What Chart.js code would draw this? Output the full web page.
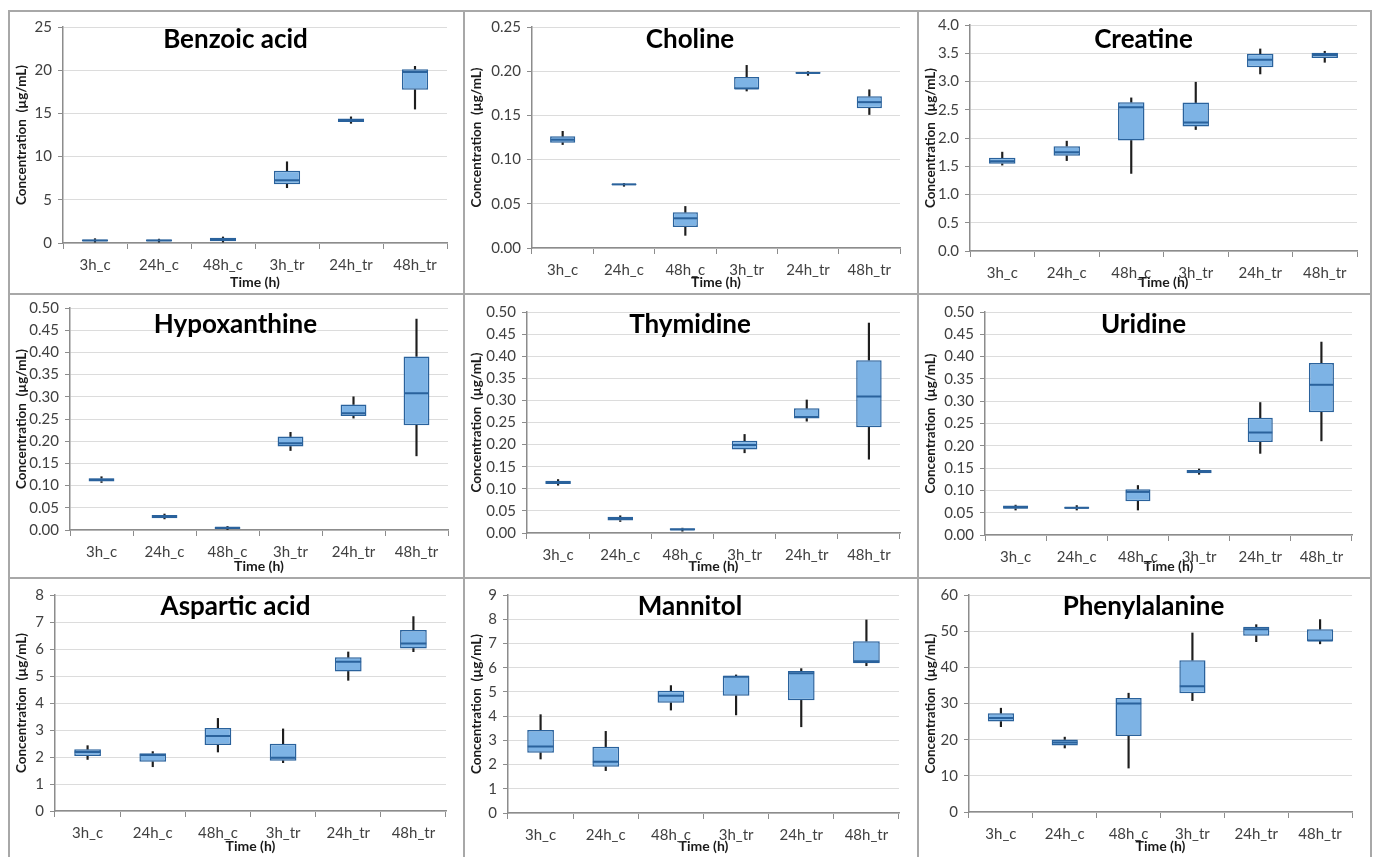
<!DOCTYPE html>
<html>
<head>
<meta charset="utf-8">
<script src="https://cdn.jsdelivr.net/npm/chart.js@4.4.0/dist/chart.umd.min.js"></script>
<style>
body { margin: 0; background: #fff; width: 1375px; height: 857px; overflow: hidden; position: relative; }
.panel { position: absolute; box-sizing: border-box; border: 2px solid #a8a8a8; }
canvas { position: absolute; }
</style>
</head>
<body>
<script>
// categories and titles
const categories = ['3h_c', '24h_c', '48h_c', '3h_tr', '24h_tr', '48h_tr'];
const titles = ['Benzoic acid', 'Choline', 'Creatine', 'Hypoxanthine', 'Thymidine', 'Uridine', 'Aspartic acid', 'Mannitol', 'Phenylalanine'];

// per category: [whisker min, q1, median, q3, whisker max]
const benzoicAcid = [[0.1, 0.2, 0.3, 0.4, 0.5], [0.1, 0.2, 0.3, 0.4, 0.45], [0.1, 0.2, 0.4, 0.6, 0.7], [6.4, 6.8, 7.25, 8.35, 9.4], [13.85, 14.0, 14.2, 14.4, 14.6], [15.5, 17.75, 19.8, 20.1, 20.45]];
const choline = [[0.117, 0.1192, 0.1225, 0.1263, 0.132], [0.0698, 0.0709, 0.072, 0.0728, 0.073], [0.0143, 0.0238, 0.0336, 0.0403, 0.047], [0.1776, 0.1795, 0.1805, 0.1934, 0.2066], [0.1953, 0.197, 0.198, 0.199, 0.1995], [0.151, 0.158, 0.165, 0.1716, 0.179]];
const creatine = [[1.52, 1.543, 1.59, 1.65, 1.75], [1.60, 1.685, 1.75, 1.856, 1.944], [1.373, 1.956, 2.545, 2.633, 2.71], [2.15, 2.203, 2.274, 2.627, 2.987], [3.134, 3.252, 3.387, 3.493, 3.576], [3.34, 3.417, 3.47, 3.511, 3.535]];
const hypoxanthine = [[0.107, 0.109, 0.113, 0.1165, 0.12], [0.025, 0.0263, 0.031, 0.0338, 0.036], [0.001, 0.0023, 0.005, 0.0068, 0.008], [0.179, 0.188, 0.1955, 0.2105, 0.22], [0.252, 0.257, 0.263, 0.2827, 0.30], [0.167, 0.236, 0.308, 0.391, 0.475]];
const thymidine = [[0.108, 0.111, 0.114, 0.118, 0.121], [0.026, 0.028, 0.033, 0.037, 0.039], [0.004, 0.006, 0.008, 0.0106, 0.011], [0.1815, 0.189, 0.199, 0.2088, 0.223], [0.253, 0.259, 0.2625, 0.282, 0.301], [0.167, 0.239, 0.309, 0.391, 0.475]];
const uridine = [[0.056, 0.059, 0.062, 0.066, 0.067], [0.056, 0.059, 0.061, 0.0636, 0.066], [0.056, 0.0756, 0.0966, 0.1025, 0.111], [0.136, 0.1385, 0.142, 0.146, 0.148], [0.183, 0.2088, 0.2298, 0.2627, 0.297], [0.211, 0.2754, 0.3368, 0.3855, 0.4326]];
const asparticAcid = [[1.91, 2.037, 2.185, 2.284, 2.42], [1.64, 1.827, 2.074, 2.136, 2.2], [2.185, 2.444, 2.778, 3.074, 3.43], [1.79, 1.864, 1.975, 2.494, 3.04], [4.84, 5.17, 5.53, 5.69, 5.89], [5.9, 6.02, 6.2, 6.70, 7.2]];
const mannitol = [[2.23, 2.49, 2.75, 3.426, 4.06], [1.75, 1.91, 2.12, 2.74, 3.37], [4.25, 4.55, 4.84, 5.05, 5.26], [4.05, 4.84, 5.63, 5.67, 5.7], [3.56, 4.65, 5.77, 5.86, 5.96], [6.08, 6.18, 6.27, 7.09, 7.97]];
const phenylalanine = [[23.6, 25.0, 26.0, 27.3, 28.7], [17.7, 18.4, 19.2, 20.05, 20.7], [12.15, 21.0, 30.0, 31.55, 32.85], [30.8, 32.85, 34.8, 41.95, 49.5], [47.1, 48.75, 50.5, 51.25, 51.8], [46.5, 47.2, 47.4, 50.5, 53.2]];

// y axis: max, step, decimals
const yMax = [25, 0.25, 4, 0.5, 0.5, 0.5, 8, 9, 60];
const yStep = [5, 0.05, 0.5, 0.05, 0.05, 0.05, 1, 1, 10];
const yDecimals = [0, 2, 1, 2, 2, 2, 0, 0, 0];

const series = [benzoicAcid, choline, creatine, hypoxanthine, thymidine, uridine, asparticAcid, mannitol, phenylalanine];

// page layout
const colX = [8, 463, 917, 1370];
const rowY = [10, 293, 577, 857];
// plot areas [left, right, top, bottom]
const plotRects = [
  [63, 447, 27, 243], [532, 900, 27, 248], [970, 1357, 24, 251],
  [70, 448, 308, 530], [527, 900, 312, 533], [985, 1352, 312, 535],
  [55, 446, 595, 811], [508, 899, 595, 813], [969, 1352, 595, 812]
];
const titleY = [30, 32, 30];

const boxFill = '#7db3e5';
const boxLine = '#2a629c';
const whisker = '#1e1e1e';
const boxPct = 0.41;
const FONT = 'Lato, "Open Sans", sans-serif';

const titlePlugin = {
  id: 'panelTitle',
  afterDraw(chart, args, opts) {
    const c = chart.ctx;
    c.save();
    c.font = 'bold 26px ' + FONT;
    c.fillStyle = '#000';
    c.textAlign = 'center';
    c.textBaseline = 'middle';
    c.fillText(opts.text, chart.width / 2, opts.y);
    c.restore();
  }
};

for (let i = 0; i < 9; i++) {
  const col = i % 3, row = Math.floor(i / 3);
  const left = colX[col], top = rowY[row];
  const w = colX[col + 1] - left, h = rowY[row + 1] - top;

  const border = document.createElement('div');
  border.className = 'panel';
  border.style.left = left + 'px';
  border.style.top = top + 'px';
  border.style.width = (w + 2) + 'px';
  border.style.height = (row === 2 ? h + 10 : h + 2) + 'px';
  document.body.appendChild(border);

  const cv = document.createElement('canvas');
  cv.width = w; cv.height = h;
  cv.style.left = left + 'px';
  cv.style.top = top + 'px';
  document.body.appendChild(cv);

  const pr = plotRects[i];
  const padL = 5;
  const yW = pr[0] - left - padL;
  const padR = colX[col + 1] - pr[1];
  const padT = pr[2] - top;
  const xH = rowY[row + 1] - 2 - pr[3];
  const rows = series[i];

  new Chart(cv, {
    type: 'bar',
    data: {
      labels: categories,
      datasets: [
        { type: 'line', data: rows.map(r => r[2]), showLine: false, pointStyle: 'line',
          borderColor: boxLine, borderWidth: 2,
          pointRadius: ctx => ctx.chart.scales.x.width / categories.length * boxPct / 2 - 0.5,
          order: 0 },
        { data: rows.map(r => [r[0], r[1]]), backgroundColor: whisker, barThickness: 1.5, grouped: false, order: 3 },
        { data: rows.map(r => [r[3], r[4]]), backgroundColor: whisker, barThickness: 1.5, grouped: false, order: 3 },
        { data: rows.map(r => [r[1], r[3]]), backgroundColor: boxFill, borderColor: boxLine,
          borderWidth: 1.5, borderSkipped: false,
          barPercentage: boxPct, categoryPercentage: 1, grouped: false, order: 1 }
      ]
    },
    options: {
      responsive: false,
      animation: false,
      layout: { padding: { left: padL, right: padR, top: padT, bottom: 2 } },
      plugins: {
        legend: { display: false },
        tooltip: { enabled: false },
        panelTitle: { text: titles[i], y: titleY[row] }
      },
      scales: {
        x: {
          afterFit(s) { s.height = xH; },
          grid: { offset: true, drawOnChartArea: false, tickLength: 6, color: '#8c8c8c' },
          border: { color: '#8c8c8c', width: 1.5 },
          ticks: { color: '#404040', font: { family: FONT, size: 15 }, padding: 7, maxRotation: 0 },
          title: { display: true, text: 'Time (h)', color: '#1a1a1a', font: { family: FONT, size: 14, weight: 'bold' }, padding: { top: 0, bottom: 0 } }
        },
        y: {
          min: 0,
          max: yMax[i],
          afterFit(s) { s.width = yW; },
          grid: { color: '#dcdcdc', tickColor: '#8c8c8c', tickLength: 5 },
          border: { color: '#8c8c8c', width: 1.5 },
          ticks: { stepSize: yStep[i], color: '#404040', font: { family: FONT, size: 15 }, padding: 6,
                   callback: v => Number(v).toFixed(yDecimals[i]) },
          title: { display: true, text: 'Concentration  (µg/mL)', color: '#1a1a1a', font: { family: FONT, size: 13.5, weight: 'bold' }, padding: { top: 1, bottom: 0 } }
        }
      }
    },
    plugins: [titlePlugin]
  });
}
</script>
</body>
</html>
